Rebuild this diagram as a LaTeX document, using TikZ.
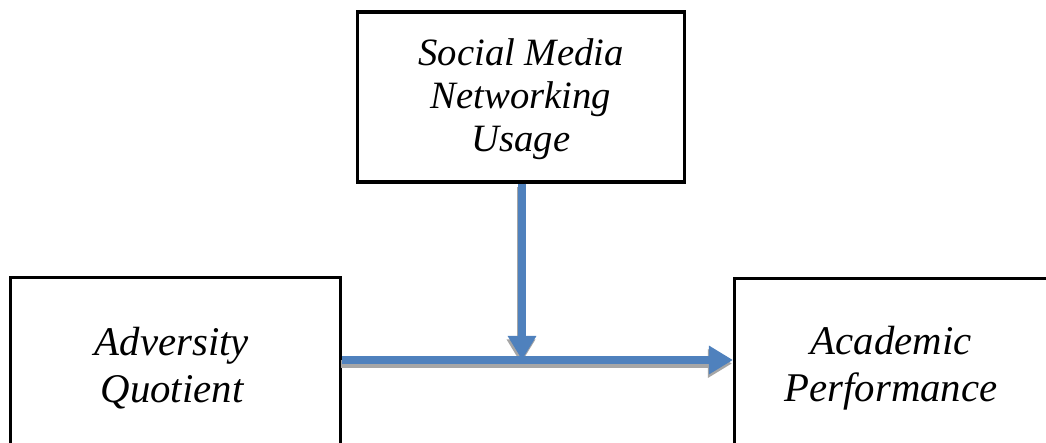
\documentclass[tikz,border=0pt]{standalone}
\usepackage{fontspec}
\setmainfont{Liberation Serif}
\usetikzlibrary{arrows.meta}
\definecolor{arrowblue}{HTML}{4F81BD}
\definecolor{shadowgray}{HTML}{A6A6A6}
\tikzset{
  box/.style={draw=black, line width=0.9pt, fill=white, inner sep=0pt},
  toplbl/.style={align=center, font=\fontsize{11}{12.3}\selectfont\itshape},
  lbl/.style={align=center, font=\fontsize{11.6}{13.4}\selectfont\itshape},
  conn/.style={line width=0.08cm, draw=arrowblue, -{Triangle[length=0.24cm,width=0.27cm]}},
  connshadow/.style={line width=0.08cm, draw=shadowgray, -{Triangle[length=0.24cm,width=0.27cm]}, transform canvas={xshift=-0.01cm,yshift=-0.035cm}}
}
\begin{document}
\begin{tikzpicture}[x=0.01cm,y=-0.01cm]
\useasboundingbox (0,0) rectangle (1046,443);
\clip (0,0) rectangle (1046,443);
\node[box, minimum width=3.26cm, minimum height=1.70cm] (smbox) at (521,97) {};
\node[box, minimum width=3.30cm, minimum height=2.6cm, anchor=north west] (aqbox) at (9,276) {};
\node[box, minimum width=3.80cm, minimum height=2.6cm, anchor=north west] (apbox) at (733,277) {};
\node[toplbl] (sm) at (521,99) {Social Media\\Networking\\Usage};
\node[lbl] (aq) at (172,368) {Adversity\\Quotient};
\node[lbl] (ap) at (891,368) {Academic\\Performance};
\coordinate (j) at (522,360);
\draw[connshadow] (aqbox.east |- j) -- (apbox.west |- j);
\draw[connshadow] (smbox.south -| j) -- (j);
\draw[conn] (aqbox.east |- j) -- (apbox.west |- j);
\draw[conn] (smbox.south -| j) -- (j);
\end{tikzpicture}
\end{document}
